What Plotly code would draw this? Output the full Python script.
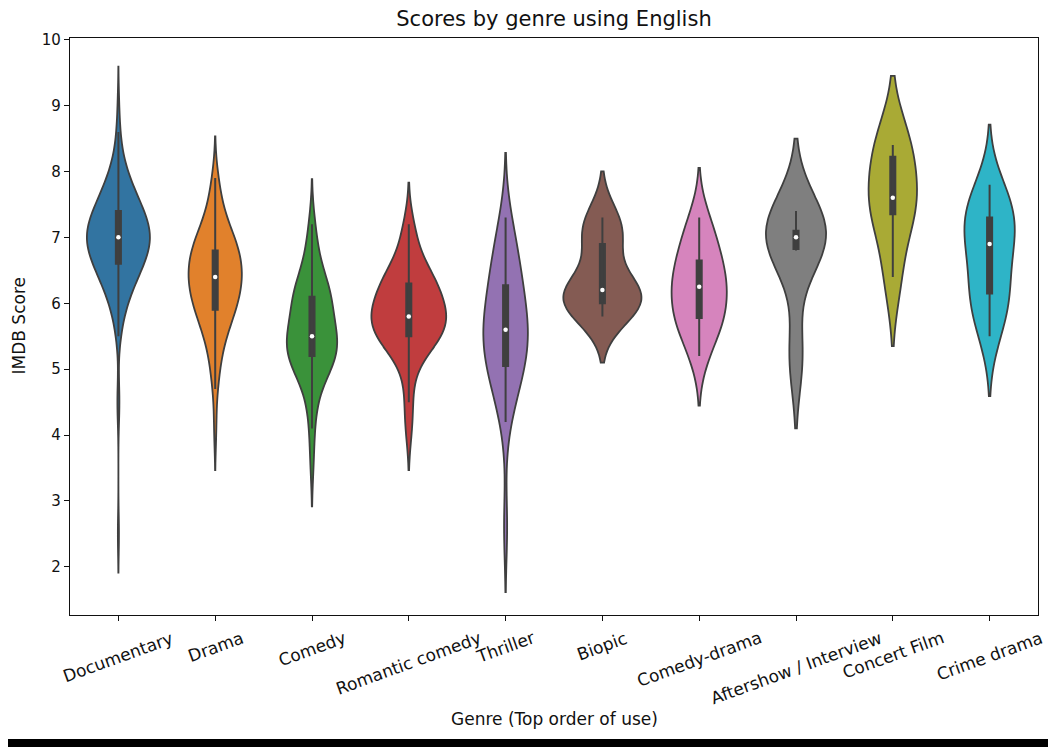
import numpy as np
import plotly.graph_objects as go

# ---------------- data ----------------
GENRES = ["Documentary", "Drama", "Comedy", "Romantic comedy", "Thriller",
          "Biopic", "Comedy-drama", "Aftershow / Interview", "Concert Film", "Crime drama"]

# frequency tables (IMDB score -> number of titles)
DOC_SCORES = [2.5, 4.4, 4.6, 5.5, 5.6, 5.7, 5.8, 5.9, 6.0, 6.1, 6.2, 6.3, 6.4, 6.5, 6.6, 6.7, 6.8, 6.9,
              7.0, 7.1, 7.2, 7.3, 7.4, 7.5, 7.6, 7.7, 7.8, 7.9, 8.0, 8.1, 8.2, 8.3, 8.5, 8.6, 9.0]
DOC_COUNTS = [1, 1, 1, 1, 1, 1, 1, 2, 2, 3, 3, 5, 5, 6, 7, 7, 9, 9,
              10, 9, 9, 7, 7, 6, 5, 5, 3, 3, 2, 2, 1, 1, 1, 1, 1]

DRAMA_SCORES = [4.1, 4.7, 4.9, 5.1, 5.2, 5.3, 5.4, 5.5, 5.6, 5.7, 5.8, 5.9, 6.0, 6.1, 6.2, 6.3,
                6.4, 6.5, 6.6, 6.7, 6.8, 6.9, 7.0, 7.1, 7.2, 7.3, 7.4, 7.5, 7.6, 7.8, 7.9]
DRAMA_COUNTS = [1, 1, 1, 1, 1, 1, 1, 1, 2, 2, 3, 3, 3, 3, 4, 4,
                4, 4, 3, 4, 4, 3, 3, 2, 2, 1, 1, 1, 1, 1, 1]

COMEDY_SCORES = [3.6, 4.1, 4.4, 4.6, 4.8, 4.9, 5.0, 5.1, 5.2, 5.3, 5.4, 5.5, 5.6, 5.7, 5.8,
                 5.9, 6.0, 6.1, 6.2, 6.3, 6.4, 6.5, 6.6, 6.8, 7.0, 7.2]
COMEDY_COUNTS = [1, 1, 1, 1, 1, 1, 2, 3, 3, 3, 3, 3, 3, 1, 1,
                 2, 2, 3, 3, 1, 1, 1, 1, 1, 1, 1]

ROMCOM = [4.1, 4.5, 4.9, 5.2, 5.3, 5.4, 5.4, 5.5, 5.5, 5.5, 5.6, 5.6, 5.7, 5.7, 5.7, 5.8, 5.8,
          5.8, 5.9, 5.9, 6.0, 6.0, 6.1, 6.1, 6.2, 6.3, 6.3, 6.3, 6.4, 6.4, 6.5, 6.6, 6.8, 7.0, 7.2]
THRILLER = [2.6, 4.2, 4.5, 4.7, 4.8, 4.9, 5.0, 5.0, 5.2, 5.3, 5.3, 5.4, 5.5, 5.5, 5.6, 5.6,
            5.7, 5.8, 5.9, 6.0, 6.1, 6.2, 6.3, 6.4, 6.5, 6.6, 6.8, 6.9, 7.1, 7.3]
BIOPIC = [5.8, 6.0, 6.0, 6.1, 6.2, 6.3, 6.9, 7.1, 7.3]
COMEDY_DRAMA = [5.2, 5.6, 5.7, 5.8, 6.0, 6.2, 6.3, 6.4, 6.6, 6.8, 7.0, 7.3]
AFTERSHOW = [5.2, 6.8, 6.9, 7.1, 7.1, 7.4]
CONCERT = [6.4, 7.3, 7.5, 7.7, 8.4, 8.4]
CRIME = [5.5, 5.9, 6.1, 6.2, 6.6, 6.9, 7.0, 7.2, 7.4, 7.5, 7.8]

# ---------------- styles ----------------
COLORS = ["#3274a1", "#e1812c", "#3a923a", "#c03d3e", "#9372b2",
          "#845b53", "#d684bd", "#7f7f7f", "#a9aa35", "#2eb4c7"]
VIOLIN_WIDTHS = [0.65, 0.55, 0.52, 0.77, 0.46, 0.80, 0.57, 0.62, 0.50, 0.52]
BOX_WIDTH = 0.052
EDGE = "#3f3f3f"
TXT = "#111111"
FONT = "DejaVu Sans"

series = [
    np.repeat(DOC_SCORES, DOC_COUNTS),
    np.repeat(DRAMA_SCORES, DRAMA_COUNTS),
    np.repeat(COMEDY_SCORES, COMEDY_COUNTS),
    np.array(ROMCOM), np.array(THRILLER), np.array(BIOPIC), np.array(COMEDY_DRAMA),
    np.array(AFTERSHOW), np.array(CONCERT), np.array(CRIME),
]

fig = go.Figure()
for g, vals, col, w in zip(GENRES, series, COLORS, VIOLIN_WIDTHS):
    vals = np.asarray(vals, dtype=float)
    bw = vals.std(ddof=1) * len(vals) ** (-0.2)   # Scott's rule as in seaborn
    fig.add_trace(go.Violin(
        x=[g] * len(vals), y=vals, name=g,
        width=w, scalemode="width", spanmode="soft", bandwidth=bw,
        fillcolor=col, opacity=1,
        line=dict(color=EDGE, width=1.8),
        points=False, box=dict(visible=False), meanline=dict(visible=False),
        showlegend=False, hoverinfo="skip",
    ))
    # inner box as seaborn draws it (numpy percentiles, 1.5 IQR whiskers)
    q1, med, q3 = np.percentile(vals, [25, 50, 75])
    lim = 1.5 * (q3 - q1)
    lo = float(vals[vals >= q1 - lim].min())
    hi = float(vals[vals <= q3 + lim].max())
    fig.add_trace(go.Box(
        x=[g], q1=[q1], median=[med], q3=[q3], lowerfence=[lo], upperfence=[hi],
        width=BOX_WIDTH, fillcolor=EDGE, line=dict(color=EDGE, width=2),
        whiskerwidth=0, boxpoints=False, showlegend=False, hoverinfo="skip",
    ))
    fig.add_trace(go.Scatter(
        x=[g], y=[med], mode="markers",
        marker=dict(color="white", size=4.5, line=dict(width=0)),
        showlegend=False, hoverinfo="skip",
    ))

annotations = []
for g in GENRES:
    annotations.append(dict(
        x=g, xref="x", y=0, yref="paper", yanchor="top", xanchor="center",
        yshift=-10, text=g, textangle=-20, showarrow=False,
        font=dict(family=FONT, size=17, color=TXT),
    ))
annotations.append(dict(
    x=0.5, xref="paper", y=0, yref="paper", yshift=-104, yanchor="middle",
    text="Genre (Top order of use)", showarrow=False,
    font=dict(family=FONT, size=17, color=TXT),
))
annotations.append(dict(
    x=0, xref="paper", xshift=-52, y=0.5, yref="paper", xanchor="center",
    yanchor="middle", textangle=-90, text="IMDB Score", showarrow=False,
    font=dict(family=FONT, size=17, color=TXT),
))

# page body has an 8px margin: the figure is offset by 8px inside the window
fig.update_layout(
    width=1056, height=747,
    margin=dict(l=62, r=26, t=30, b=140),
    paper_bgcolor="white", plot_bgcolor="white",
    violinmode="overlay", boxmode="overlay",
    title=dict(text="Scores by genre using English", x=0.5, xref="paper",
               y=1 - 11 / 747, yref="container", xanchor="center", yanchor="middle",
               font=dict(family=FONT, size=21, color=TXT)),
    xaxis=dict(type="category", categoryorder="array", categoryarray=GENRES,
               range=[-0.5, 9.5], showticklabels=False, ticks="outside", ticklen=5,
               tickcolor=TXT, showline=True, linecolor=TXT, linewidth=1.2,
               mirror=True, showgrid=False, zeroline=False),
    yaxis=dict(range=[1.27, 10.025], tickvals=list(range(2, 11)), ticks="outside",
               ticklen=5, tickcolor=TXT, showline=True, linecolor=TXT,
               linewidth=1.2, mirror=True, showgrid=False, zeroline=False,
               tickfont=dict(family=FONT, size=15, color=TXT)),
    annotations=annotations,
    shapes=[dict(type="rect", xref="paper", yref="paper", x0=-0.2, x1=1.2,
                 y0=-(770 - 607) / 577, y1=-(731 - 607) / 577,
                 fillcolor="black", line=dict(width=0), layer="above")],
)

fig.write_html("out.html")
